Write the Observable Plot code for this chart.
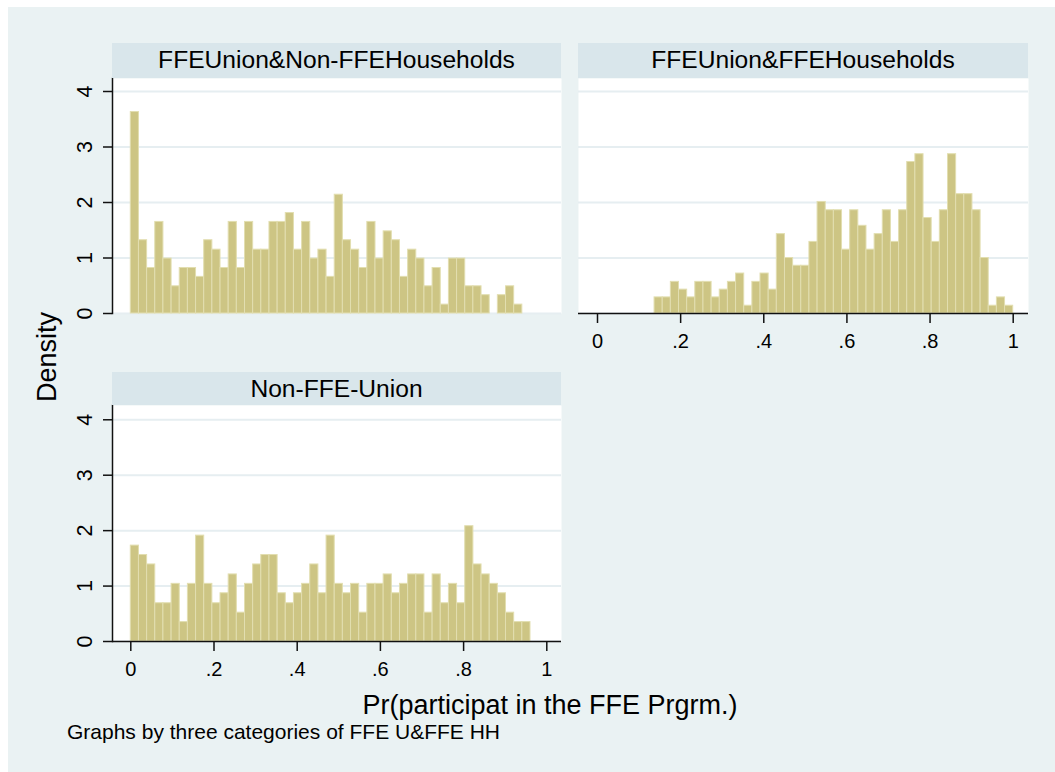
<!DOCTYPE html>
<html><head><meta charset="utf-8">
<script src="https://cdn.jsdelivr.net/npm/d3@7"></script>
<script src="https://cdn.jsdelivr.net/npm/@observablehq/plot@0.6"></script>
<style>
body{margin:0;background:#fff;}
#chart{position:relative;width:1055px;height:772px;background:#fff;font-family:"Liberation Sans",Arial,sans-serif;overflow:hidden;color:#000;}
#bg{position:absolute;left:8px;top:7px;right:0;bottom:0;background:#eaf2f3;}
.strip{position:absolute;background:#d9e6eb;font-size:24.6px;text-align:center;white-space:nowrap;}
.panel{position:absolute;}
.panel svg{overflow:visible;}
.txt{position:absolute;white-space:nowrap;line-height:1;}
</style></head><body>
<div id="chart"><div id="bg"></div></div>
<script>
// ---- data ----
const binWidth = 1 / 51;
const panelTitles = ["FFEUnion&Non-FFEHouseholds", "FFEUnion&FFEHouseholds", "Non-FFE-Union"];
const firstBin = [0, 7, 0];
const densityUnionNonFFEHH = [3.63, 1.32, 0.82, 1.65, 0.99, 0.49, 0.82, 0.82, 0.66, 1.32, 1.15, 0.82, 1.65, 0.82, 1.65, 1.15, 1.15, 1.65, 1.65, 1.81, 1.15, 1.65, 0.99, 1.15, 0.66, 2.14, 1.32, 1.15, 0.82, 1.65, 0.99, 1.48, 1.32, 0.66, 1.15, 0.99, 0.49, 0.82, 0.16, 0.99, 0.99, 0.49, 0.49, 0.33, 0, 0.33, 0.49, 0.16];
const densityUnionFFEHH = [0.29, 0.29, 0.57, 0.43, 0.29, 0.57, 0.57, 0.29, 0.43, 0.57, 0.72, 0.14, 0.57, 0.72, 0.43, 1.43, 1.00, 0.86, 0.86, 1.29, 2.01, 1.86, 1.86, 1.15, 1.86, 1.58, 1.15, 1.43, 1.86, 1.29, 1.86, 2.73, 2.87, 1.72, 1.29, 1.86, 2.87, 2.15, 2.15, 1.86, 1.00, 0.14, 0.29, 0.14];
const densityNonFFEUnion = [1.73, 1.56, 1.39, 0.69, 0.69, 1.04, 0.35, 1.04, 1.91, 1.04, 0.69, 0.87, 1.21, 0.52, 1.04, 1.39, 1.56, 1.56, 0.87, 0.69, 0.87, 1.04, 1.39, 0.87, 1.91, 1.04, 0.87, 1.04, 0.52, 1.04, 1.04, 1.21, 0.87, 1.04, 1.21, 1.21, 0.52, 1.21, 0.69, 1.04, 0.69, 2.08, 1.39, 1.21, 1.04, 0.87, 0.52, 0.35, 0.35];
const xTicks = [0, 0.2, 0.4, 0.6, 0.8, 1];
const yTicks = [0, 1, 2, 3, 4];
const xTitle = "Pr(participat in the FFE Prgrm.)";
const yTitle = "Density";
const noteText = "Graphs by three categories of FFE U&FFE HH";

// ---- helpers ----
function toRows(values, start) {
  return values.map((d, i) => ({x1: (start + i) * binWidth, x2: (start + i + 1) * binWidth, density: d}))
               .filter(d => d.density > 0);
}
const fmt = d => d === 0 ? "0" : d === 1 ? "1" : d.toFixed(1).replace(/^0/, "");
const ink = "#111";

function panel({rows, showY, showX, frameW, frameH, xDomain, yDomain}) {
  const mL = showY ? 60 : 0, mB = showX ? 40 : 1;
  const marks = [
    Plot.frame({fill: "white", stroke: null}),
    Plot.ruleY(yTicks, {stroke: "#e6eef1", strokeWidth: 2}),
    Plot.rectY(rows, {x1: "x1", x2: "x2", y: "density", fill: "#cdc584", stroke: "#e2deb0", strokeWidth: 1})
  ];
  if (showX) marks.push(
    Plot.ruleY([0], {stroke: ink, strokeWidth: 1.5}),
    Plot.axisX({ticks: xTicks, tickFormat: fmt, label: null, tickSize: 10, tickPadding: 10, fontSize: 20, stroke: ink, strokeWidth: 1.5})
  );
  if (showY) marks.push(
    Plot.frame({anchor: "left", stroke: ink, strokeWidth: 1.5}),
    Plot.axisY({ticks: yTicks, tickFormat: d => String(d), label: null, tickSize: 9, tickPadding: 18, tickRotate: -90, lineAnchor: "middle", fontSize: 21.5, stroke: ink, strokeWidth: 1.5})
  );
  return Plot.plot({
    width: mL + frameW + 2, height: frameH + mB,
    marginLeft: mL, marginRight: 2, marginTop: 0, marginBottom: mB,
    x: showX ? {domain: xDomain} : {domain: xDomain, axis: null},
    y: showY ? {domain: yDomain} : {domain: yDomain, axis: null},
    style: {background: "transparent", overflow: "visible", color: "#000", fontFamily: '"Liberation Sans", Arial, sans-serif'},
    marks
  });
}

const chart = document.getElementById("chart");
function place(node, left, top) {
  const d = document.createElement("div");
  d.className = "panel"; d.style.left = left + "px"; d.style.top = top + "px";
  d.appendChild(node); chart.appendChild(d);
}
function strip(text, left, top, w, h) {
  const d = document.createElement("div");
  d.className = "strip";
  Object.assign(d.style, {left: left + "px", top: top + "px", width: w + "px", height: h + "px", lineHeight: h + "px"});
  d.textContent = text; chart.appendChild(d);
}

const xDomA = [-18.3 / 416, -18.3 / 416 + 449 / 416];
const xDomB = [-19 / 415.7, 431 / 415.7];

place(panel({rows: toRows(densityUnionNonFFEHH, firstBin[0]), showY: true, showX: false, frameW: 449, frameH: 235, xDomain: xDomA, yDomain: [0, 235 / 55.5]}), 52, 78);
place(panel({rows: toRows(densityUnionFFEHH, firstBin[1]), showY: false, showX: true, frameW: 450, frameH: 235, xDomain: xDomB, yDomain: [0, 235 / 55.5]}), 578, 78);
place(panel({rows: toRows(densityNonFFEUnion, firstBin[2]), showY: true, showX: true, frameW: 449, frameH: 236, xDomain: xDomA, yDomain: [0, 236 / 55.43]}), 52, 405);

strip(panelTitles[0], 112, 43.3, 449, 34.4);
strip(panelTitles[1], 578, 43.3, 450, 34.4);
strip(panelTitles[2], 112, 371.7, 449, 33.3);

const yt = document.createElement("div");
yt.className = "txt"; yt.textContent = yTitle;
Object.assign(yt.style, {fontSize: "27px", left: "47px", top: "357px", transform: "translate(-50%,-50%) rotate(-90deg)"});
chart.appendChild(yt);

const xt = document.createElement("div");
xt.className = "txt"; xt.textContent = xTitle;
Object.assign(xt.style, {fontSize: "27px", left: "550px", top: "705px", transform: "translate(-50%,-50%)"});
chart.appendChild(xt);

const nt = document.createElement("div");
nt.className = "txt"; nt.textContent = noteText;
Object.assign(nt.style, {fontSize: "21px", left: "67px", top: "721px"});
chart.appendChild(nt);
</script>
</body></html>
